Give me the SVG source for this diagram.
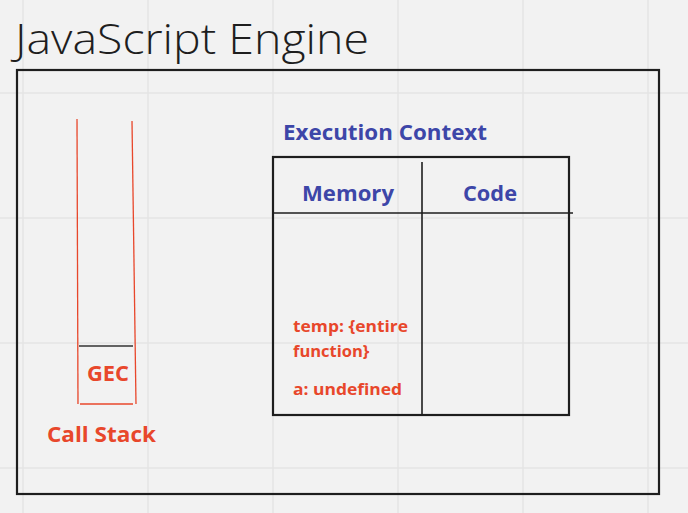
<svg xmlns="http://www.w3.org/2000/svg" width="688" height="513" viewBox="0 0 688 513">
<style>
.grid{stroke:#e4e4e4;stroke-width:1.5}
.frame{fill:none;stroke:#1e1e1e;stroke-width:2.2}
.red{stroke:#e8472b;stroke-width:1.3;fill:none}
.rt{fill:#e8472b;font-family:"Open Sans","Noto Sans",sans-serif;font-weight:700}
.bt{fill:#3d46a8;font-family:"Open Sans","Noto Sans",sans-serif;font-weight:700}
</style>
<rect width="688" height="513" fill="#f2f2f2"/>
<g id="grid">
<line class="grid" x1="23" y1="0" x2="23" y2="513"/>
<line class="grid" x1="148" y1="0" x2="148" y2="513"/>
<line class="grid" x1="273" y1="0" x2="273" y2="513"/>
<line class="grid" x1="398" y1="0" x2="398" y2="513"/>
<line class="grid" x1="523" y1="0" x2="523" y2="513"/>
<line class="grid" x1="648" y1="0" x2="648" y2="513"/>
<line class="grid" x1="0" y1="93" x2="688" y2="93"/>
<line class="grid" x1="0" y1="218" x2="688" y2="218"/>
<line class="grid" x1="0" y1="343" x2="688" y2="343"/>
<line class="grid" x1="0" y1="468" x2="688" y2="468"/>
</g>
<g id="engine">
<text x="15" y="54" font-family="Open Sans, Noto Sans, sans-serif" font-size="42" font-weight="300" fill="#1e1e1e" textLength="354" lengthAdjust="spacingAndGlyphs">JavaScript Engine</text>
<rect class="frame" x="17" y="70" width="642" height="424"/>
</g>
<g id="call-stack">
<line class="red" x1="77" y1="119" x2="78" y2="404"/>
<line class="red" x1="132" y1="121" x2="136" y2="404"/>
<line class="red" x1="80" y1="404" x2="133" y2="404"/>
<text class="rt" x="47" y="442" font-size="22" textLength="109" lengthAdjust="spacingAndGlyphs">Call Stack</text>
</g>
<g id="gec">
<line x1="79" y1="346" x2="133" y2="346" stroke="#333" stroke-width="1.3"/>
<text class="rt" x="87" y="381" font-size="21" textLength="42" lengthAdjust="spacingAndGlyphs">GEC</text>
</g>
<g id="execution-context">
<text class="bt" x="283" y="140" font-size="21" textLength="204" lengthAdjust="spacingAndGlyphs">Execution Context</text>
<rect class="frame" x="273" y="157" width="296" height="258"/>
<line x1="273" y1="213" x2="573" y2="213" stroke="#1e1e1e" stroke-width="1.6"/>
<line x1="422" y1="162" x2="422" y2="415" stroke="#1e1e1e" stroke-width="1.6"/>
<text class="bt" x="302" y="201" font-size="22" textLength="92" lengthAdjust="spacingAndGlyphs">Memory</text>
<text class="bt" x="463" y="201" font-size="22" textLength="54" lengthAdjust="spacingAndGlyphs">Code</text>
<text class="rt" x="293" y="332" font-size="16.5" textLength="115" lengthAdjust="spacingAndGlyphs">temp: {entire</text>
<text class="rt" x="293" y="357" font-size="16.5">function}</text>
<text class="rt" x="293" y="395" font-size="16.5" textLength="109" lengthAdjust="spacingAndGlyphs">a: undefined</text>
</g>
</svg>
